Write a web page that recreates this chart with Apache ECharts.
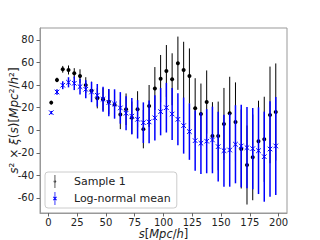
<!DOCTYPE html>
<html><head><meta charset="utf-8">
<script src="https://cdn.jsdelivr.net/npm/echarts@6/dist/echarts.min.js"></script>
<style>html,body{margin:0;padding:0;background:#fff}#c{width:320px;height:240px}</style>
</head><body><div id="c"></div>
<script>
const s = [2.5,7.5,12.5,17.5,22.5,27.5,32.5,37.5,42.5,47.5,52.5,57.5,62.5,67.5,72.5,77.5,82.5,87.5,92.5,97.5,
  102.5,107.5,112.5,117.5,122.5,127.5,132.5,137.5,142.5,147.5,152.5,157.5,162.5,167.5,172.5,177.5,182.5,187.5,192.5,197.5];
const sample1 = [24.5,44.6,54,53.4,50.5,48,40,35,28.4,27.5,25.3,22.7,14,18.6,11,18.6,1,21.5,37,45.7,
  52.5,45.2,59.4,53.4,48,19.5,14.4,25,-5,-5,5.6,15,7.4,-16.6,-30.8,-24,-9.8,-8,13.6,16.2];
const sample1Err = [1.5,2,3,4,4.5,6,7,8,9,10,11,12,13,14,14.5,16,17,18.6,19,21,
  23,23,23.6,25,24.5,26.6,27,28,29.9,30.4,31.9,32.4,35,35,35,38,36,37.7,42.8,43];
const lognormal = [15.6,33.9,39.9,42.5,41.6,38.6,36.3,33.9,31,27.5,24.5,23.3,19.8,15.1,12.5,9.7,6.7,7.4,11,16.5,
  20,14.4,9.7,4.1,-1.2,-9.2,-11.5,-9.7,-8.6,-14.5,-18.1,-17.5,-12.4,-13.9,-15.4,-16.3,-18.1,-23.4,-16.6,-13.9];
const lognormalErr = [1.5,2.5,3.5,4.5,6,7,8,9,10,11,12,13,14,15,16,17,18,19,20,21,
  22,23,23,24.8,25,26.6,27.2,28.4,29.5,31,31.9,32.5,34.6,36.6,36,36,38.4,39.9,42.3,43.4];
const xTicks = [0,25,50,75,100,125,150,175,200];
const yTicks = [-60,-40,-20,0,20,40,60,80];
const seriesNames = ['Sample 1','Log-normal mean'];

function errData(vals, errs){ return s.map((x,i)=>[x, vals[i], errs[i]]); }

function renderBlack(params, api){
  const x = api.value(0), y = api.value(1), e = api.value(2);
  const lo = api.coord([x, y-e]), hi = api.coord([x, y+e]), c = api.coord([x, y]);
  return {type:'group', children:[
    {type:'line', shape:{x1:lo[0],y1:lo[1],x2:hi[0],y2:hi[1]}, style:{stroke:'#000', lineWidth:1}},
    {type:'circle', shape:{cx:c[0],cy:c[1],r:2}, style:{fill:'#000'}}
  ]};
}
function renderBlue(params, api){
  const x = api.value(0), y = api.value(1), e = api.value(2);
  const lo = api.coord([x, y-e]), hi = api.coord([x, y+e]), c = api.coord([x, y]);
  const d = 2.3;
  return {type:'group', children:[
    {type:'line', shape:{x1:lo[0],y1:lo[1],x2:hi[0],y2:hi[1]}, style:{stroke:'#0000ff', lineWidth:1.5}},
    {type:'line', shape:{x1:c[0]-d,y1:c[1]-d,x2:c[0]+d,y2:c[1]+d}, style:{stroke:'#0000ff', lineWidth:1}},
    {type:'line', shape:{x1:c[0]-d,y1:c[1]+d,x2:c[0]+d,y2:c[1]-d}, style:{stroke:'#0000ff', lineWidth:1}}
  ]};
}

const FONT = 'DejaVu Sans';
const chart = echarts.init(document.getElementById('c'), null, {renderer:'svg'});
chart.setOption({
  animation:false,
  backgroundColor:'#fff',
  grid:{left:40, right:33, top:28, bottom:27, outerBoundsMode:'none', containLabel:false,
    show:true, borderColor:'#999', borderWidth:1, backgroundColor:'transparent'},
  xAxis:{type:'value', min:-7.25, max:207.25,
    name:'{i|s}[{i|Mpc}/{i|h}]', nameLocation:'middle', nameGap:15, nameMoveOverlap:false,
    nameTextStyle:{fontFamily:FONT, fontSize:11.5, lineHeight:12, color:'#222', rich:{i:{fontStyle:'italic', fontFamily:FONT, fontSize:11.5, lineHeight:12, color:'#222'}}},
    axisLine:{show:true, onZero:false, lineStyle:{color:'#999', width:1}},
    axisTick:{show:true, length:3.5, customValues:xTicks, lineStyle:{color:'#666'}},
    axisLabel:{customValues:xTicks, fontFamily:FONT, fontSize:10, lineHeight:10, color:'#222', margin:4.5},
    splitLine:{show:false}},
  yAxis:{type:'value', min:-73.3, max:90.6,
    name:'{i|s}² × {i|ξ}({i|s})[{i|Mpc}²/{i|h}²]', nameLocation:'middle', nameGap:20, nameMoveOverlap:false,
    nameTextStyle:{fontFamily:FONT, fontSize:12, color:'#222', rich:{i:{fontStyle:'italic', fontFamily:FONT, fontSize:12, color:'#222'}}},
    axisLine:{show:true, onZero:false, lineStyle:{color:'#999', width:1}},
    axisTick:{show:true, length:3.5, customValues:yTicks, lineStyle:{color:'#666'}},
    axisLabel:{customValues:yTicks, fontFamily:FONT, fontSize:10, color:'#222', margin:6},
    splitLine:{show:false}},
  legend:{
    orient:'vertical', left:45, top:172,
    padding:[3,6,3,8], itemWidth:16, itemHeight:13, itemGap:4,
    backgroundColor:'rgba(255,255,255,0.85)', borderColor:'#ccc', borderWidth:1, borderRadius:3,
    textStyle:{fontFamily:FONT, fontSize:11, color:'#222', padding:[0,0,0,6]},
    data:[
      {name:seriesNames[0], icon:'path://M2.5,0h1v20h-1z M1,10a2,2 0 1,0 4,0a2,2 0 1,0 -4,0z', itemStyle:{color:'#000'}},
      {name:seriesNames[1], icon:'path://M2.4,0h1.2v20h-1.2z M0,8L1,7L6,12L5,13Z M5,7L6,8L1,13L0,12Z', itemStyle:{color:'#0000ff'}}
    ]
  },
  series:[
    {name:seriesNames[0], type:'custom', renderItem:renderBlack, data:errData(sample1, sample1Err),
      encode:{x:0, y:1}, itemStyle:{color:'#000'}, clip:false},
    {name:seriesNames[1], type:'custom', renderItem:renderBlue, data:errData(lognormal, lognormalErr),
      encode:{x:0, y:1}, itemStyle:{color:'#0000ff'}, clip:false}
  ]
});
</script></body></html>
